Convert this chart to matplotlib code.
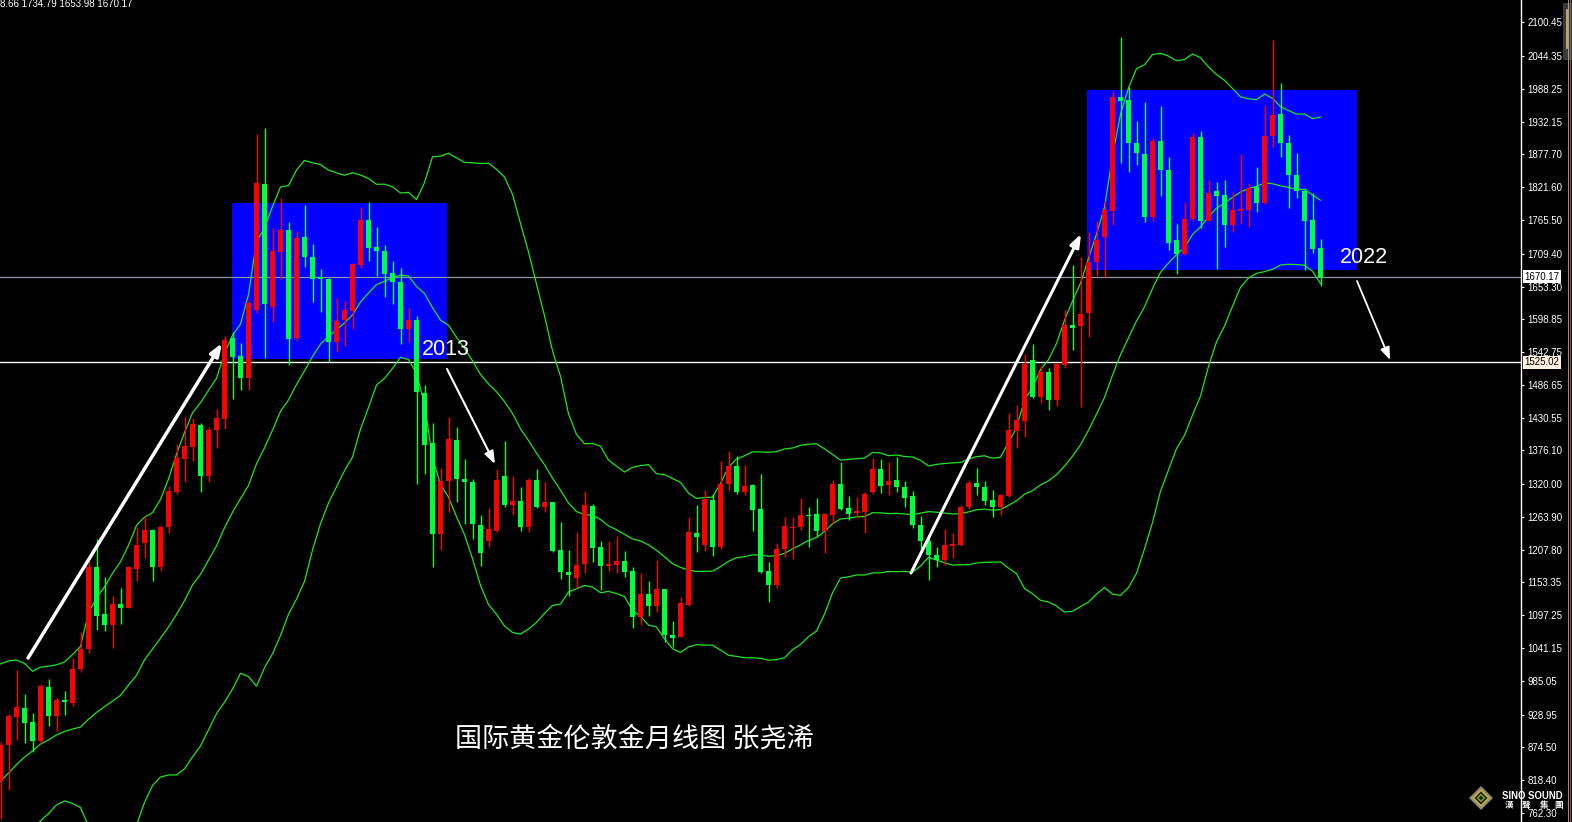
import numpy as np
import pandas as pd
import matplotlib
matplotlib.use("Agg")
import matplotlib.pyplot as plt
from matplotlib.patches import Rectangle, Polygon
from matplotlib.lines import Line2D
import matplotlib.transforms as mtransforms

# ---------------- data (monthly London gold, 2008-12 .. 2022-09) ----------------
months = pd.period_range("2008-12", "2022-09", freq="M")

opens = [816,
         878, 925, 940, 916, 884, 976, 927, 953, 949, 1006, 1040, 1179,
         1099, 1081, 1116, 1110, 1176, 1220, 1241, 1179, 1246, 1305, 1362, 1382,
         1419, 1332, 1410, 1430, 1567, 1536, 1499, 1613, 1827, 1619, 1712, 1749,
         1567, 1737, 1703, 1670, 1667, 1560, 1597, 1612, 1690, 1766, 1721, 1714,
         1677, 1662, 1581, 1597, 1474, 1388, 1234, 1324, 1394, 1328, 1322, 1249,
         1222, 1240, 1333, 1283, 1290, 1247, 1326, 1281, 1288, 1208, 1170, 1160,
         1184, 1282, 1213, 1181, 1182, 1189, 1172, 1094, 1133, 1113, 1141, 1064,
         1061, 1114, 1237, 1216, 1292, 1213, 1320, 1350, 1306, 1317, 1277, 1172,
         1148, 1209, 1245.5, 1247, 1267, 1268, 1239, 1267, 1320, 1278, 1270, 1272,
         1305, 1344, 1317, 1326, 1314, 1299, 1250, 1223, 1199, 1190, 1215, 1216,
         1280, 1321, 1314, 1292, 1280, 1299, 1409, 1426, 1529, 1467, 1509, 1461,
         1521, 1588, 1586, 1608, 1695, 1738, 1781, 1975, 1969, 1896, 1878, 1772,
         1900, 1850, 1733, 1708, 1767, 1906, 1765, 1815, 1808, 1757, 1781, 1783,
         1822, 1795, 1908, 1945, 1897, 1843, 1815, 1766, 1718.66]

highs = [882,
         930, 1005, 964, 931, 980, 989, 957, 968, 1025, 1069, 1189, 1226,
         1162, 1130, 1144, 1180, 1246, 1265, 1243, 1250, 1316, 1387, 1432, 1431,
         1423, 1416, 1446, 1570, 1577, 1558, 1631, 1912, 1921, 1753, 1803, 1762,
         1748, 1791, 1725, 1683, 1668, 1634, 1629, 1693, 1788, 1797, 1755, 1724,
         1697, 1685, 1617, 1604, 1487, 1423, 1347, 1432, 1416, 1361, 1328, 1267,
         1278, 1345, 1392, 1332, 1314, 1329, 1345, 1323, 1289, 1255, 1208, 1238,
         1307, 1285, 1223, 1223, 1231, 1205, 1178, 1168, 1155, 1190, 1142, 1087,
         1128, 1264, 1284, 1309, 1303, 1358, 1375, 1367, 1351, 1319, 1336, 1187,
         1219, 1263, 1263, 1295, 1280, 1295, 1270, 1326, 1357, 1299, 1298, 1306,
         1364, 1361, 1356, 1365, 1325, 1308, 1265, 1230, 1212, 1243, 1236, 1283,
         1326, 1346, 1325, 1309, 1303, 1440, 1453, 1540, 1556, 1519, 1516, 1524,
         1613, 1690, 1704, 1746, 1764, 1799, 1984, 2076, 1992, 1934, 1966, 1905,
         1959, 1872, 1759, 1797, 1913, 1917, 1834, 1831, 1834, 1813, 1878, 1828,
         1855, 1960, 2071, 1998, 1910, 1879, 1820, 1811, 1734.79]

lows = [753,
        802, 886, 880, 865, 881, 910, 901, 928, 943, 1001, 1034, 1072,
        1070, 1042, 1082, 1110, 1155, 1194, 1155, 1172, 1236, 1302, 1323, 1358,
        1306, 1323, 1380, 1412, 1463, 1478, 1478, 1608, 1532, 1594, 1666, 1521,
        1562, 1687, 1628, 1611, 1526, 1543, 1553, 1581, 1685, 1697, 1672, 1635,
        1624, 1556, 1560, 1320, 1337, 1179, 1208, 1271, 1289, 1251, 1226, 1181,
        1212, 1238, 1281, 1267, 1240, 1238, 1278, 1271, 1204, 1158, 1130, 1144,
        1168, 1188, 1140, 1172, 1169, 1161, 1075, 1080, 1096, 1103, 1051, 1043,
        1060, 1112, 1204, 1206, 1198, 1210, 1309, 1303, 1301, 1240, 1169, 1120,
        1144, 1196, 1193, 1242, 1213, 1230, 1203, 1251, 1275, 1259, 1261, 1236,
        1302, 1304, 1301, 1306, 1280, 1244, 1210, 1157, 1179, 1182, 1194, 1215,
        1277, 1301, 1284, 1264, 1266, 1297, 1381, 1399, 1465, 1457, 1445, 1451,
        1516, 1546, 1450, 1568, 1671, 1670, 1757, 1863, 1848, 1859, 1763, 1765,
        1807, 1715, 1675, 1707, 1765, 1752, 1765, 1683, 1721, 1745, 1759, 1754,
        1780, 1794, 1890, 1872, 1787, 1803, 1681, 1710, 1653.98]

closes = [878,
          927, 941, 915, 885, 977, 927, 953, 950, 1006, 1040, 1179, 1096,
          1081, 1116, 1110, 1178, 1216, 1241, 1179, 1246, 1307, 1364, 1383, 1421,
          1332, 1410, 1431, 1563, 1535, 1499, 1625, 1828, 1624, 1714, 1749, 1564,
          1736, 1703, 1667, 1667, 1560, 1595, 1614, 1692, 1766, 1719, 1714, 1675,
          1662, 1581, 1597, 1475, 1386, 1234, 1324, 1395, 1328, 1322, 1252, 1202,
          1243, 1326, 1283, 1290, 1247, 1326, 1280, 1288, 1206, 1171, 1166, 1182,
          1284, 1211, 1181, 1184, 1189, 1171, 1094, 1133, 1113, 1141, 1064, 1059,
          1117, 1238, 1230, 1294, 1213, 1320, 1350, 1305, 1316, 1275, 1170, 1148,
          1209, 1248, 1246.5, 1267, 1265, 1240, 1268, 1320, 1277, 1268, 1274, 1302,
          1344, 1316, 1324, 1314, 1296, 1250, 1222, 1199, 1190, 1216, 1218, 1280,
          1321, 1314, 1291, 1281, 1300, 1411, 1428, 1523, 1467, 1509, 1461, 1522,
          1588, 1584, 1607, 1695, 1733, 1783, 1975, 1968, 1896, 1880, 1772, 1900,
          1850, 1727, 1708, 1767, 1906, 1765, 1811, 1807, 1757, 1783, 1784, 1821,
          1795, 1908, 1944, 1897, 1843, 1815, 1765, 1717, 1670.17]

# closes 2007-05 .. 2008-11, only used to warm up the Bollinger bands
prior_closes = [659, 650, 665, 673, 743, 789, 783, 834,
                923, 972, 916, 864, 887, 930, 912, 833, 884, 718, 814]

ytick_values = [2100.45, 2044.35, 1988.25, 1932.15, 1877.70, 1821.60, 1765.50,
                1709.40, 1653.30, 1598.85, 1542.75, 1486.65, 1430.55, 1376.10,
                1320.00, 1263.90, 1207.80, 1153.35, 1097.25, 1041.15, 985.05,
                928.95, 874.50, 818.40, 762.30]

last_price = 1670.17
support_price = 1525.02
ohlc_caption = "8.66 1734.79 1653.98 1670.17"
title_text = "国际黄金伦敦金月线图 张尧浠"
zone_labels = ["2013", "2022"]

# ---------------- figure ----------------
W, H = 1572, 822
fig = plt.figure(figsize=(W / 100, H / 100), dpi=100, facecolor="black")
ax = fig.add_axes([0, 0, 1521 / W, 1])
ax.set_facecolor("black")

n = len(closes)
x = np.arange(n)
o = np.array(opens, float); h = np.array(highs, float)
l = np.array(lows, float); c = np.array(closes, float)

ax.set_xlim(-0.0625, 190.06)
ax.set_ylim(747.1, 2138.5)

RED = "#ff0000"
GREEN = "#00ff3c"
BAND = "#1ee61e"

# highlighted zones (x in candle-index units, y in price)
zones = [(28.94, 55.81, 1530.8, 1794.9), (135.81, 169.56, 1681.4, 1986.1)]
for x0, x1, y0, y1 in zones:
    ax.add_patch(Rectangle((x0, y0), x1 - x0, y1 - y0, facecolor="#0000ff",
                           edgecolor="none", zorder=1))

# horizontal price lines
ax.axhline(last_price, color="#8a96a4", lw=0.9, zorder=2)
ax.axhline(support_price, color="white", lw=1.0, zorder=2)

# Bollinger bands (20, 2)
s = pd.Series(prior_closes + closes, dtype=float)
mid = s.rolling(20).mean().to_numpy()[-n:]
sd = s.rolling(20).std(ddof=0).to_numpy()[-n:]
for band in (mid, mid + 2 * sd, mid - 2 * sd):
    ax.plot(x, band, color=BAND, lw=0.9, zorder=3, solid_joinstyle="miter")

# candles
up = c >= o
colors = np.where(up, RED, GREEN)
body_lo = np.minimum(o, c)
body_h = np.abs(c - o)
min_h = 1.8
small = body_h < min_h
body_lo = np.where(small, (o + c) / 2 - min_h / 2, body_lo)
body_h = np.maximum(body_h, min_h)
ax.vlines(x, l, h, colors=colors, lw=1.0, zorder=4)
ax.bar(x, body_h, bottom=body_lo, width=0.625, color=colors, linewidth=0, zorder=5)

# arrows (start -> tip, in candle index / price)
arrows = [((3.44, 1024.6), (27.69, 1557.9), 2.5),
          ((55.81, 1513.9), (61.81, 1353.0), 1.5),
          ((113.81, 1168.5), (135.06, 1742.4), 2.2),
          ((169.56, 1662.8), (173.69, 1529.1), 1.3)]
for (sx, sy), (tx, ty), lw in arrows:
    ax.annotate("", xy=(tx, ty), xytext=(sx, sy),
                arrowprops=dict(arrowstyle="-|>,head_length=0.75,head_width=0.28",
                                mutation_scale=10, color="white", lw=lw,
                                shrinkA=0, shrinkB=0), zorder=6)

# zone labels
ax.text(52.69, 1547.7, zone_labels[0], color="white", fontsize=15.5,
        family="Liberation Sans", ha="left", va="center", zorder=7)
ax.text(167.44, 1701.8, zone_labels[1], color="white", fontsize=15.5,
        family="Liberation Sans", ha="left", va="center", zorder=7)

# title
ax.text(79.2, 888.0, title_text, color="white", fontsize=19.5,
        family=["Noto Sans CJK SC", "DejaVu Sans"], ha="center", va="center", zorder=7)

# axes styling
ax.set_xticks([])
ax.yaxis.tick_right()
ax.set_yticks(ytick_values)
ax.set_yticklabels([f"{v:.2f}" for v in ytick_values])
ax.tick_params(axis="y", colors="white", length=2.5, width=0.8, pad=2,
               labelsize=7, direction="out")
for lab in ax.get_yticklabels():
    lab.set_family("Liberation Sans")
for sp in ("left", "top", "bottom"):
    ax.spines[sp].set_visible(False)
ax.spines["right"].set_color("white")
ax.spines["right"].set_linewidth(1.0)

blend = mtransforms.blended_transform_factory(ax.transAxes, ax.transData)
ax.text(1.0022, last_price, f"{last_price:.2f}", transform=blend, ha="left",
        va="center", fontsize=7, family="Liberation Sans", color="black",
        bbox=dict(boxstyle="square,pad=0.18", fc="white", ec="none"),
        zorder=10, clip_on=False)
ax.text(1.0022, support_price, f"{support_price:.2f}", transform=blend, ha="left",
        va="center", fontsize=7, family="Liberation Sans", color="black",
        bbox=dict(boxstyle="square,pad=0.18", fc="#fff0e0", ec="none"),
        zorder=10, clip_on=False)

# ---------------- decorations in figure pixels ----------------
def fpx(xp, yp):
    return (xp / W, 1 - yp / H)

fig.text(*fpx(0, -1), ohlc_caption, color="white", fontsize=7,
         family="Liberation Sans", ha="left", va="top")

# right-edge scrollbar strip
fig.add_artist(Line2D([1568.3 / W] * 2, [0, 1], color="#b0b0b0", lw=0.6))
fig.add_artist(Line2D([1570.3 / W] * 2, [0, 1], color="#a0522d", lw=0.8))
fig.add_artist(Rectangle(fpx(1563, 60), 9 / W, 57 / H, transform=fig.transFigure,
                         facecolor="#3a3a3a", edgecolor="none"))
fig.add_artist(Line2D([1567 / W] * 2, [1 - 48 / H, 1 - 10 / H], color="#c8c070", lw=1.2))

# logo
cx, cy = 1481, 798
for r, col in [(12, "#8a8a78"), (9, "#c8aa3c"), (6.5, "#1a1a10"), (4.5, "#6f9a2e"), (2.2, "#1a1a10")]:
    pts = [fpx(cx, cy - r), fpx(cx + r, cy), fpx(cx, cy + r), fpx(cx - r, cy)]
    fig.add_artist(Polygon(pts, closed=True, transform=fig.transFigure,
                           facecolor=col, edgecolor="none"))
fig.text(*fpx(1502, 796), "SINO SOUND", color="white", fontsize=6.9,
         family="Liberation Sans", weight="bold", ha="left", va="center")
for ch, xc in zip("漢聲集團", [1509, 1526, 1544, 1559]):
    fig.text(*fpx(xc, 805), ch, color="#f0f0f0", fontsize=6.2, weight="bold",
             family=["Noto Sans CJK TC", "DejaVu Sans"], ha="center", va="center")

fig.savefig("out.png", dpi=100, facecolor="black")
